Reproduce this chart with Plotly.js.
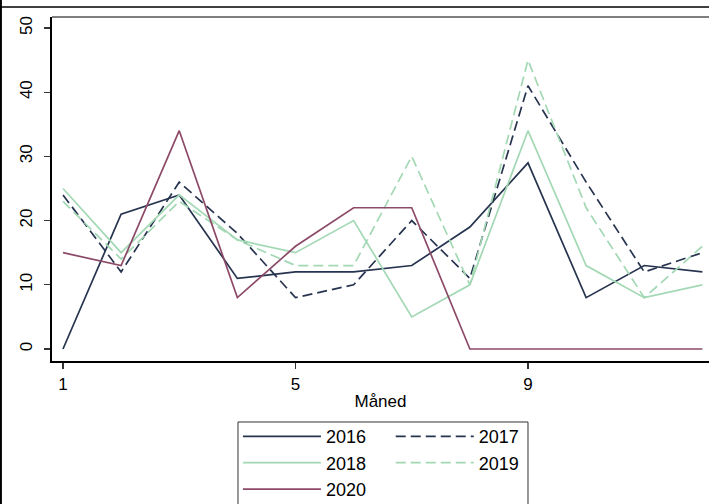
<!DOCTYPE html>
<html>
<head>
<meta charset="utf-8">
<script src="https://cdn.plot.ly/plotly-3.0.1.min.js"></script>
<style>
html,body{margin:0;padding:0;overflow:hidden;background:#fff;}
#chart{width:709px;height:504px;}
</style>
</head>
<body>
<div id="chart"></div>
<script>
const months = [1,2,3,4,5,6,7,8,9,10,11,12];
const y2016 = [0,21,24,11,12,12,13,19,29,8,13,12];
const y2017 = [24,12,26,18,8,10,20,11,41,26,12,15];
const y2018 = [25,15,24,17,15,20,5,10,34,13,8,10];
const y2019 = [23,14,23,17,13,13,30,10,45,22,8,16];
const y2020 = [15,13,34,8,16,22,22,0,0,0,0,0];
const xTicks = [1,5,9];
const yTicks = [0,10,20,30,40,50];

const navy = '#27344f';
const green = '#a3d8b4';
const mauve = '#8c4a68';
const dash = '10px,5px';

const traces = [
  {name:'2016', y:y2016, line:{color:navy, width:1.7}, legend:'legend'},
  {name:'2017', y:y2017, line:{color:navy, width:1.7, dash:dash}, legend:'legend2'},
  {name:'2018', y:y2018, line:{color:green, width:1.7}, legend:'legend'},
  {name:'2019', y:y2019, line:{color:green, width:1.7, dash:dash}, legend:'legend2'},
  {name:'2020', y:y2020, line:{color:mauve, width:1.7}, legend:'legend'}
].map(t => Object.assign({x:months, type:'scatter', mode:'lines', hoverinfo:'skip'}, t));

const font = {family:'"Liberation Sans", Arial, sans-serif', color:'#000'};
const legendCommon = {
  orientation:'v', xanchor:'left', yanchor:'top', bgcolor:'rgba(0,0,0,0)',
  borderwidth:0, itemwidth:78, tracegroupgap:0,
  font:Object.assign({size:18}, font), itemclick:false, itemdoubleclick:false
};

const layout = {
  width:709, height:504,
  margin:{l:52, r:0, t:17, b:143, pad:0, autoexpand:false},
  paper_bgcolor:'#fff', plot_bgcolor:'#fff',
  font:Object.assign({size:16}, font),
  showlegend:true,
  xaxis:{
    range:[0.811, 12.114], tickvals:xTicks, ticktext:xTicks.map(String),
    showgrid:false, zeroline:false, showline:true, linecolor:'#000', linewidth:2,
    ticks:'outside', ticklen:6, tickcolor:'#333', tickwidth:1.2,
    ticklabelstandoff:1,
    tickfont:Object.assign({size:17}, font),
    title:{text:'Måned', font:Object.assign({size:17}, font), standoff:2}
  },
  yaxis:{
    range:[-1.869, 51.71], tickvals:yTicks, ticktext:yTicks.map(String),
    showgrid:false, zeroline:false, showline:true, linecolor:'#000', linewidth:2,
    ticks:'outside', ticklen:6, tickcolor:'#333', tickwidth:1.2,
    ticklabelstandoff:5,
    tickangle:-90, tickfont:Object.assign({size:17}, font)
  },
  legend:Object.assign({x:0.283, y:-0.166}, legendCommon),
  legend2:Object.assign({x:0.5156, y:-0.166}, legendCommon),
  shapes:[
    {type:'line', xref:'paper', yref:'paper', x0:0, x1:1.02, y0:1, y1:1, line:{color:'#555', width:1.5}},
    {type:'rect', xref:'paper', yref:'paper', x0:0.2831, x1:0.7245, y0:-0.1773, y1:-0.47, line:{color:'#333', width:1}},
    {type:'line', xref:'paper', yref:'paper', x0:-0.08, x1:1.02, y0:1.029, y1:1.029, line:{color:'#000', width:1.6}},
    {type:'line', xref:'paper', yref:'paper', x0:-0.0785, x1:-0.0785, y0:1.1, y1:-0.5, line:{color:'#000', width:3}}
  ],
  annotations:[
    {xref:'paper', yref:'paper', x:-0.006, y:1.055, xanchor:'center', yanchor:'bottom', showarrow:false,
     text:'<b>g</b>', font:Object.assign({size:22}, font)}
  ]
};

Plotly.newPlot('chart', traces, layout, {displayModeBar:false, staticPlot:true});
</script>
</body>
</html>
